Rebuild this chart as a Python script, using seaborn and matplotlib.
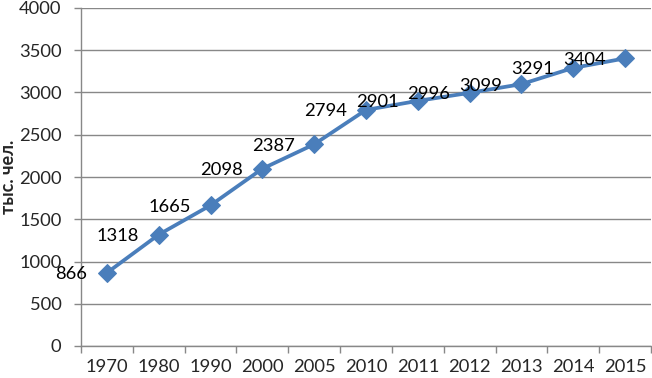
import seaborn as sns
import matplotlib.pyplot as plt
from matplotlib.ticker import FixedLocator, MultipleLocator

# данные
years = ['1970', '1980', '1990', '2000', '2005', '2010',
         '2011', '2012', '2013', '2014', '2015']
values = [866, 1318, 1665, 2098, 2387, 2794, 2901, 2996, 3099, 3291, 3404]

sns.set_style('white')
plt.rcParams['font.family'] = ['Lato', 'DejaVu Sans']

fig = plt.figure(figsize=(6.52, 3.78), dpi=100)
ax = fig.add_axes([81 / 652, 32 / 378, 570 / 652, 338 / 378])

line_color = '#4a7ebb'
grid_color = '#888888'
fs = 13.2

sns.lineplot(x=years, y=values, ax=ax, sort=False, color=line_color,
             linewidth=2.7, marker='D', markersize=9,
             markeredgecolor=line_color, markerfacecolor=line_color)

# подписи значений слева от точек
for i, v in enumerate(values):
    ax.annotate(str(v), (i, v), xytext=(-14, -1), textcoords='offset points',
                ha='right', va='center', fontsize=fs, color='black')

ax.set_ylim(0, 4000)
ax.set_xlim(-0.5, len(years) - 0.5)
ax.yaxis.set_major_locator(MultipleLocator(500))
ax.grid(axis='y', color=grid_color, linewidth=1)
ax.grid(axis='x', visible=False)
ax.set_axisbelow(True)

for side in ['top', 'right']:
    ax.spines[side].set_visible(False)
for side in ['left', 'bottom']:
    ax.spines[side].set_color(grid_color)
    ax.spines[side].set_linewidth(1)

ax.tick_params(axis='y', which='major', length=5, width=1, color=grid_color,
               pad=9, labelsize=fs, left=True)
ax.tick_params(axis='x', which='major', length=0, pad=9, labelsize=fs)
ax.xaxis.set_minor_locator(FixedLocator([i - 0.5 for i in range(len(years) + 1)]))
ax.tick_params(axis='x', which='minor', length=5, width=1, color=grid_color,
               bottom=True)

ax.set_xlabel('')
ax.set_ylabel('тыс. чел.', fontsize=13, fontweight='bold')
ax.yaxis.set_label_coords(-0.112, 0.5)

fig.savefig('out.png', dpi=100)
